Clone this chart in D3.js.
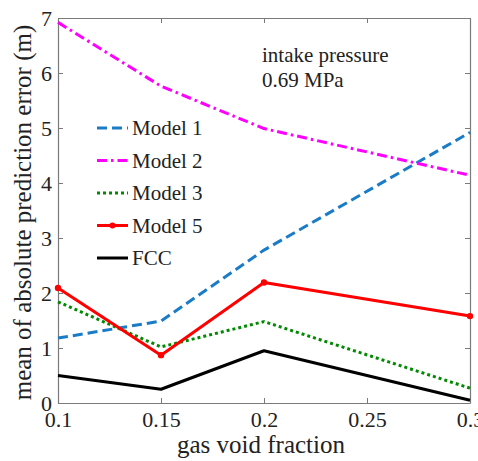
<!DOCTYPE html>
<html><head><meta charset="utf-8">
<style>body{margin:0;font-family:"Liberation Serif",serif}</style>
<script src="https://cdn.jsdelivr.net/npm/d3@7"></script>
</head><body>
<svg id="c" width="478" height="461"></svg>
<script>
const xValues = [0.1, 0.15, 0.2, 0.3];
const model1 = [1.18, 1.49, 2.78, 4.92];
const model2 = [6.92, 5.76, 4.99, 4.14];
const model3 = [1.84, 1.02, 1.48, 0.27];
const model5 = [2.09, 0.87, 2.19, 1.58];
const fcc = [0.50, 0.25, 0.95, 0.05];
const xTicks = [0.1, 0.15, 0.2, 0.25, 0.3];
const yTicks = [0, 1, 2, 3, 4, 5, 6, 7];
const seriesNames = ["Model 1", "Model 2", "Model 3", "Model 5", "FCC"];

const FONT = "Liberation Serif";
const styles = {
  "Model 1": {color: "#1a7cc6", dash: "10,5", values: model1},
  "Model 2": {color: "#ff00ff", dash: "10,4,2.5,4", values: model2},
  "Model 3": {color: "#008a00", dash: "3,3", values: model3},
  "Model 5": {color: "#ff0000", dash: null, values: model5, marker: true},
  "FCC": {color: "#000000", dash: null, values: fcc}
};

const svg = d3.select("#c");
function txt(sel, size) {
  return sel.style("font-family", FONT).style("font-size", size + "px").attr("fill", "#222");
}
const m = {l: 58, r: 470, t: 18, b: 403};
const x = d3.scaleLinear().domain([0.1, 0.3]).range([m.l, m.r]);
const y = d3.scaleLinear().domain([0, 7]).range([m.b, m.t]);

const axisColor = "#7a7a7a";
const gx = svg.append("g").attr("transform", `translate(0,${m.b})`)
  .call(d3.axisBottom(x).tickValues(xTicks).tickFormat(d3.format("")).tickSizeInner(-5).tickSizeOuter(0).tickPadding(8));
const gxt = svg.append("g").attr("transform", `translate(0,${m.t})`)
  .call(d3.axisTop(x).tickValues(xTicks).tickFormat("").tickSizeInner(-5).tickSizeOuter(0));
const gy = svg.append("g").attr("transform", `translate(${m.l},0)`)
  .call(d3.axisLeft(y).tickValues(yTicks).tickFormat(d3.format("d")).tickSizeInner(-5).tickSizeOuter(0).tickPadding(6));
const gyr = svg.append("g").attr("transform", `translate(${m.r},0)`)
  .call(d3.axisRight(y).tickValues(yTicks).tickFormat("").tickSizeInner(-5).tickSizeOuter(0));
[gx, gxt, gy, gyr].forEach(g => {
  g.attr("font-family", null).attr("font-size", null);
  g.selectAll("path.domain").attr("stroke", axisColor).attr("stroke-width", 1.2);
  g.selectAll(".tick line").attr("stroke", axisColor).attr("stroke-width", 1);
  txt(g.selectAll(".tick text"), 22);
});
gx.selectAll(".tick text").attr("dy", "0.72em");

const line = d3.line().x((d, i) => x(xValues[i])).y(d => y(d));
const plot = svg.append("g");
seriesNames.forEach(name => {
  const s = styles[name];
  plot.append("path").datum(s.values).attr("d", line)
    .attr("fill", "none").attr("stroke", s.color).attr("stroke-width", 3)
    .attr("stroke-dasharray", s.dash).attr("stroke-linejoin", "round");
  if (s.marker) {
    plot.selectAll(null).data(s.values).enter().append("circle")
      .attr("cx", (d, i) => x(xValues[i])).attr("cy", d => y(d)).attr("r", 3.2).attr("fill", s.color);
  }
});

const lg = svg.append("g");
seriesNames.forEach((name, i) => {
  const s = styles[name];
  const yy = 128 + i * 32.5;
  lg.append("line").attr("x1", 97).attr("x2", 128).attr("y1", yy).attr("y2", yy)
    .attr("stroke", s.color).attr("stroke-width", 3).attr("stroke-dasharray", s.dash);
  if (s.marker) lg.append("circle").attr("cx", 112.5).attr("cy", yy).attr("r", 3).attr("fill", s.color);
  txt(lg.append("text").attr("x", 132).attr("y", yy).attr("dy", "0.35em"), 21).text(name);
});

txt(svg.append("text").attr("x", 262).attr("y", 62), 21).text("intake pressure");
txt(svg.append("text").attr("x", 262).attr("y", 87), 21).text("0.69 MPa");

txt(svg.append("text").attr("x", (m.l + m.r) / 2 - 3).attr("y", 453).attr("text-anchor", "middle"), 25).text("gas void fraction");
txt(svg.append("text").attr("transform", `translate(31,${(m.t + m.b) / 2 + 2}) rotate(-90)`).attr("text-anchor", "middle"), 25)
  .text("mean of absolute prediction error (m)");
</script>
</body></html>
